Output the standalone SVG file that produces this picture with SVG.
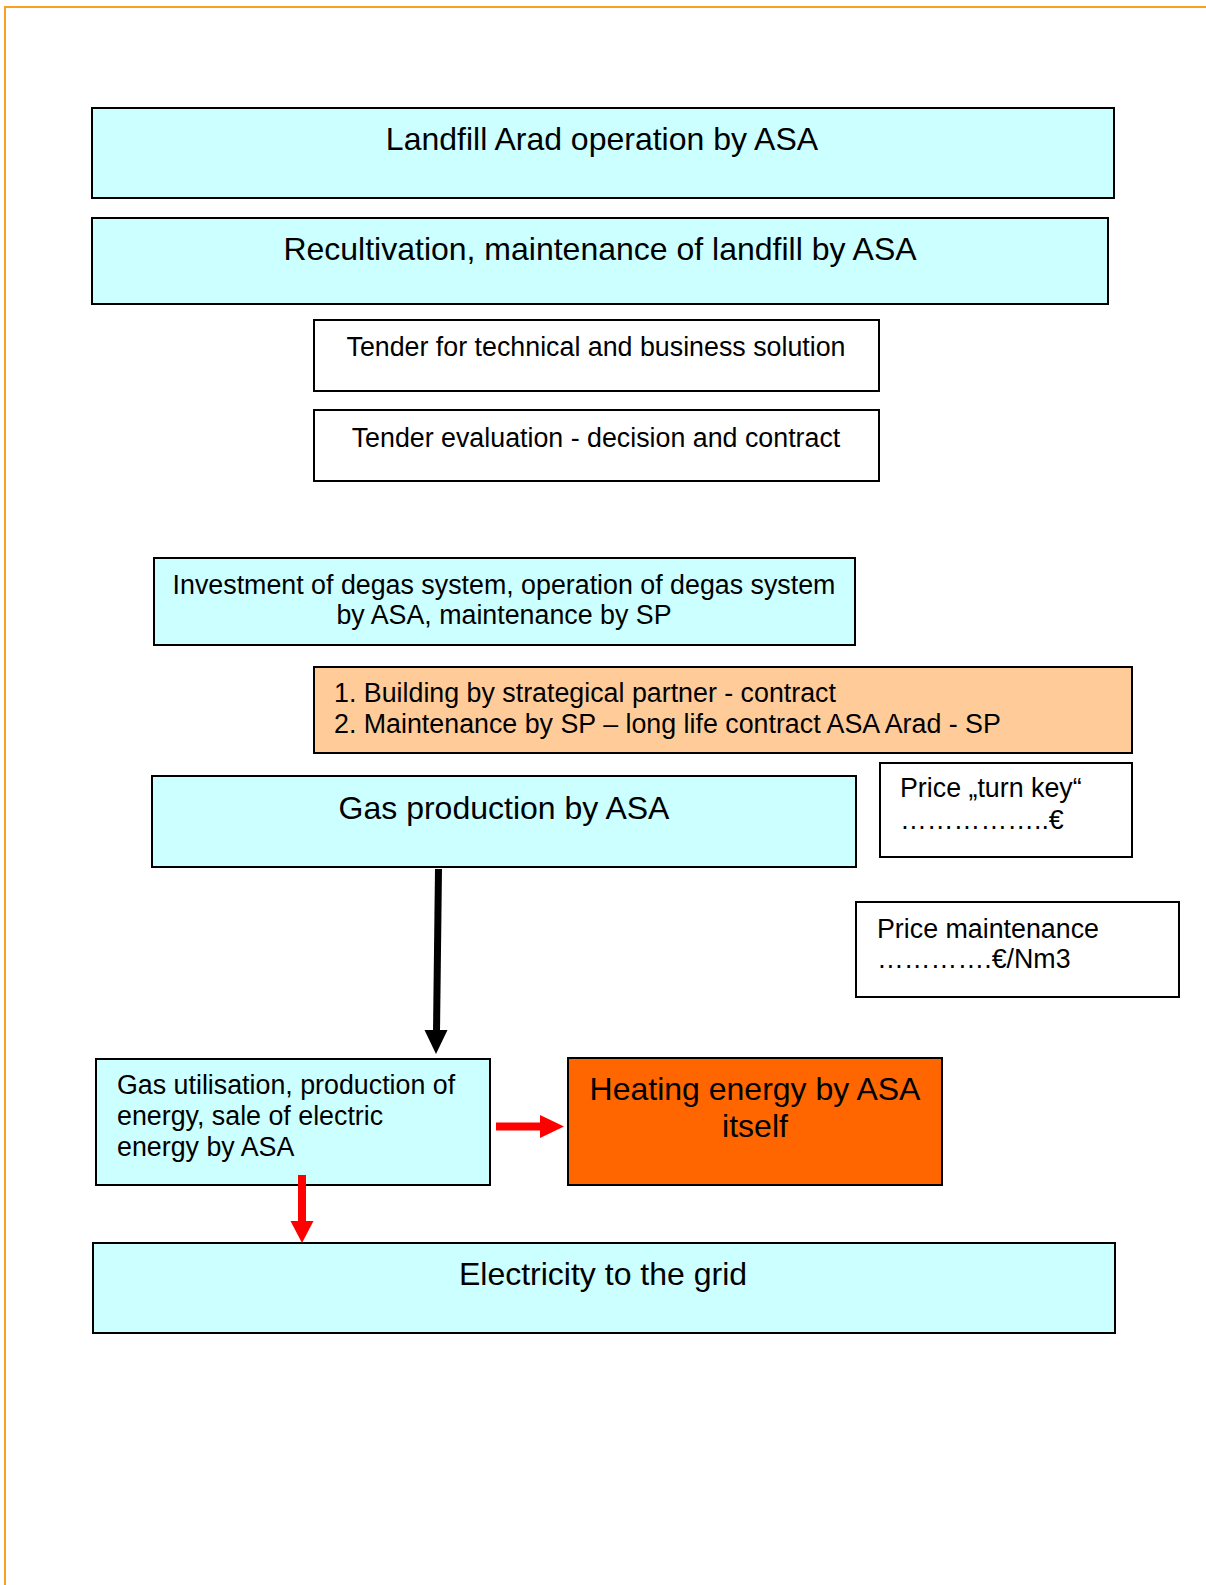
<svg xmlns="http://www.w3.org/2000/svg" width="1206" height="1585" viewBox="0 0 1206 1585">
<style>
text{font-family:"Liberation Sans",Arial,sans-serif;fill:#000}
.big{font-size:32px}
.sm{font-size:26.8px}
.c{text-anchor:middle}
.box{stroke:#000;stroke-width:2}
.cyan{fill:#CCFFFF}
.white{fill:#FFFFFF}
.peach{fill:#FFCC99}
.orange{fill:#FF6600}
</style>
<rect width="1206" height="1585" fill="#fff"/>
<rect x="5" y="7" width="1400" height="1800" fill="none" stroke="#F7A11C" stroke-width="2"/>

<g id="landfill">
<rect class="box cyan" x="92" y="108" width="1022" height="90"/>
<text class="big c" x="602" y="149.5">Landfill Arad operation by ASA</text>
</g>
<g id="recultivation">
<rect class="box cyan" x="92" y="218" width="1016" height="86"/>
<text class="big c" x="600" y="259.5">Recultivation, maintenance of landfill by ASA</text>
</g>
<g id="tender">
<rect class="box white" x="314" y="320" width="565" height="71"/>
<text class="sm c" x="596" y="356">Tender for technical and business solution</text>
</g>
<g id="evaluation">
<rect class="box white" x="314" y="410" width="565" height="71"/>
<text class="sm c" x="596" y="447">Tender evaluation - decision and contract</text>
</g>
<g id="investment">
<rect class="box cyan" x="154" y="558" width="701" height="87"/>
<text class="sm c" x="504" y="594">Investment of degas system, operation of degas system</text>
<text class="sm c" x="504" y="624">by ASA, maintenance by SP</text>
</g>
<g id="building">
<rect class="box peach" x="314" y="667" width="818" height="86"/>
<text class="sm" x="334" y="702">1. Building by strategical partner - contract</text>
<text class="sm" x="334" y="733">2. Maintenance by SP – long life contract ASA Arad - SP</text>
</g>
<g id="gasproduction">
<rect class="box cyan" x="152" y="776" width="704" height="91"/>
<text class="big c" x="504" y="818.5">Gas production by ASA</text>
</g>
<g id="priceturnkey">
<rect class="box white" x="880" y="763" width="252" height="94"/>
<text class="sm" x="900" y="797">Price „turn key“</text>
<text class="sm" x="900" y="829">……………..€</text>
</g>
<g id="pricemaintenance">
<rect class="box white" x="856" y="902" width="323" height="95"/>
<text class="sm" x="877" y="938">Price maintenance</text>
<text class="sm" x="877" y="968">………….€/Nm3</text>
</g>
<g id="gasutilisation">
<rect class="box cyan" x="96" y="1059" width="394" height="126"/>
<text class="sm" x="117" y="1094">Gas utilisation, production of</text>
<text class="sm" x="117" y="1125">energy, sale of electric</text>
<text class="sm" x="117" y="1156">energy by ASA</text>
</g>
<g id="heating">
<rect class="box orange" x="568" y="1058" width="374" height="127"/>
<text class="big c" x="755" y="1099.5">Heating energy by ASA</text>
<text class="big c" x="755" y="1136.5">itself</text>
</g>
<g id="electricity">
<rect class="box cyan" x="93" y="1243" width="1022" height="90"/>
<text class="big c" x="603" y="1284.5">Electricity to the grid</text>
</g>

<g id="connectors">
<line x1="438.5" y1="869" x2="436.5" y2="1032" stroke="#000" stroke-width="7"/>
<polygon points="424.5,1030 447.5,1030 436,1054" fill="#000"/>
<rect x="496" y="1122.5" width="46" height="8" fill="#FF0000"/>
<polygon points="540,1115 564,1126.5 540,1138" fill="#FF0000"/>
<rect x="298" y="1175" width="8" height="48" fill="#FF0000"/>
<polygon points="290.5,1221 313.5,1221 302,1243" fill="#FF0000"/>
</g>
</svg>
